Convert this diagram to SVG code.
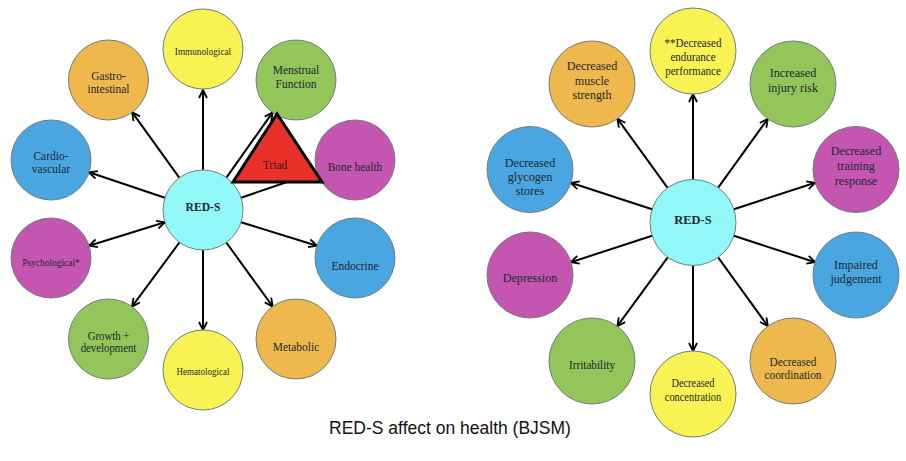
<svg xmlns="http://www.w3.org/2000/svg" width="906" height="461" viewBox="0 0 906 461">
<defs>
<style>
.c{stroke:#6f7d7d;stroke-width:1}
.yel{fill:#f8f352}.ora{fill:#efb84c}.grn{fill:#94c55a}.blu{fill:#4aa6e0}.mag{fill:#c455b0}.cya{fill:#92f7f7}
text{font-family:"Liberation Serif","Times New Roman",serif;fill:#1c2833;text-anchor:middle}
.f13{font-size:13.5px}.f125{font-size:12.5px}.f12{font-size:12px}.f11{font-size:11.5px}.f10{font-size:10.5px}
.b{font-weight:bold}
.cap{font-family:"Liberation Sans",Arial,sans-serif;font-size:17.5px;fill:#111}
.ln{stroke:#000;stroke-width:2;fill:none;marker-end:url(#arr)}
.ln2{stroke:#000;stroke-width:2;fill:none;marker-end:url(#arr);marker-start:url(#arr)}
.pl{stroke:#000;stroke-width:2;fill:none}
</style>
<marker id="arr" viewBox="0 0 10 10" refX="9" refY="5" markerWidth="10" markerHeight="10" markerUnits="userSpaceOnUse" orient="auto-start-reverse">
<path d="M1,1 L9,5 L1,9" fill="none" stroke="#000" stroke-width="1.8"/>
</marker>
</defs>
<rect width="906" height="461" fill="#fff"/>

<g id="connectors">
<line class="ln" x1="203" y1="170" x2="203" y2="90"/>
<line class="ln" x1="179.4" y1="177.8" x2="132.1" y2="112.2"/>
<line class="ln" x1="226.4" y1="177.6" x2="272.6" y2="112.4"/>
<line class="ln" x1="164.9" y1="197.7" x2="89.1" y2="172.3"/>
<line class="pl" x1="241.1" y1="197.7" x2="290" y2="181"/>
<line class="ln2" x1="164.9" y1="222.3" x2="89.1" y2="245.7"/>
<line class="ln" x1="241.1" y1="222.3" x2="316.9" y2="245.7"/>
<line class="ln" x1="179.5" y1="242.4" x2="132" y2="306.6"/>
<line class="ln" x1="203" y1="250" x2="203" y2="330"/>
<line class="ln" x1="226.3" y1="242.5" x2="272.7" y2="306.5"/>

<line class="ln" x1="693" y1="179.5" x2="693" y2="94"/>
<line class="ln" x1="667.6" y1="187.8" x2="617.4" y2="118.7"/>
<line class="ln" x1="718.2" y1="187.7" x2="767.8" y2="118.8"/>
<line class="ln" x1="652.1" y1="209.2" x2="570.9" y2="182.8"/>
<line class="ln" x1="733.9" y1="209.2" x2="815.1" y2="182.8"/>
<line class="ln" x1="652.1" y1="235.8" x2="570.9" y2="262.2"/>
<line class="ln" x1="733.9" y1="235.8" x2="815.1" y2="262.2"/>
<line class="ln" x1="667.7" y1="257.3" x2="617.3" y2="326.2"/>
<line class="ln" x1="693" y1="265.5" x2="693" y2="351"/>
<line class="ln" x1="718.1" y1="257.4" x2="767.9" y2="326.1"/>
</g>

<!-- Left diagram -->
<g id="n-immunological"><circle class="c yel" cx="203" cy="49" r="40"/>
<g transform="translate(203 49) scale(0.88 1)"><text class="f10" x="0" y="6">Immunological</text></g></g>
<g id="n-gastro"><circle class="c ora" cx="108.5" cy="80" r="40"/>
<g transform="translate(108.5 80) scale(0.92 1)"><text class="f125"><tspan x="0" y="0">Gastro-</tspan><tspan x="0" y="13.5">intestinal</tspan></text></g></g>
<g id="n-menstrual"><circle class="c grn" cx="296" cy="80" r="40"/>
<g transform="translate(296 80) scale(0.92 1)"><text class="f125"><tspan x="0" y="-6">Menstrual</tspan><tspan x="0" y="7.5">Function</tspan></text></g></g>
<g id="n-cardio"><circle class="c blu" cx="51" cy="160" r="40"/>
<g transform="translate(51 160) scale(0.92 1)"><text class="f125"><tspan x="0" y="0">Cardio-</tspan><tspan x="0" y="13.5">vascular</tspan></text></g></g>
<g id="n-bone"><circle class="c mag" cx="355" cy="160" r="40"/>
<g transform="translate(355 160) scale(0.84 1)"><text class="f13" x="0" y="10.5">Bone health</text></g></g>
<g id="n-psych"><circle class="c mag" cx="51" cy="258" r="40"/>
<g transform="translate(51 258) scale(0.9 1)"><text class="f10" x="0" y="7.5">Psychological*</text></g></g>
<g id="n-endocrine"><circle class="c blu" cx="355" cy="258" r="40"/>
<g transform="translate(355 258) scale(0.85 1)"><text class="f13" x="0" y="12.5">Endocrine</text></g></g>
<g id="n-growth"><circle class="c grn" cx="108.5" cy="339" r="40"/>
<g transform="translate(108.5 339) scale(0.9 1)"><text class="f12"><tspan x="0" y="0.5">Growth +</tspan><tspan x="0" y="13">development</tspan></text></g></g>
<g id="n-hemat"><circle class="c yel" cx="203" cy="370" r="40"/>
<g transform="translate(203 370) scale(0.86 1)"><text class="f10" x="0" y="4.5">Hematological</text></g></g>
<g id="n-metabolic"><circle class="c ora" cx="296" cy="339" r="40"/>
<g transform="translate(296 339) scale(0.85 1)"><text class="f13" x="0" y="11.5">Metabolic</text></g></g>
<g id="n-reds-left"><circle class="c cya" cx="203" cy="210" r="40"/>
<g transform="translate(203 210) scale(0.86 1)"><text class="f13 b" x="0" y="0.5">RED-S</text></g></g>
<g id="n-triad"><polygon points="277,114 233,182 322,182" fill="#e8312a" stroke="#000" stroke-width="3"/>
<g transform="translate(275 168.5) scale(0.86 1)"><text class="f13" x="0" y="0" style="fill:#4a1414">Triad</text></g></g>

<!-- Right diagram -->
<g id="n-endurance"><circle class="c yel" cx="693" cy="51" r="43"/>
<g transform="translate(693 51) scale(0.88 1)"><text class="f125"><tspan x="0" y="-4">**Decreased</tspan><tspan x="0" y="10">endurance</tspan><tspan x="0" y="24">performance</tspan></text></g></g>
<g id="n-muscle"><circle class="c ora" cx="592" cy="84" r="43"/>
<g transform="translate(592 84) scale(0.9 1)"><text class="f13"><tspan x="0" y="-14.5">Decreased</tspan><tspan x="0" y="0.5">muscle</tspan><tspan x="0" y="15.5">strength</tspan></text></g></g>
<g id="n-injury"><circle class="c grn" cx="793" cy="84" r="43"/>
<g transform="translate(793 84) scale(0.9 1)"><text class="f13"><tspan x="0" y="-7.5">Increased</tspan><tspan x="0" y="8">injury risk</tspan></text></g></g>
<g id="n-glycogen"><circle class="c blu" cx="530" cy="169.5" r="43"/>
<g transform="translate(530 169.5) scale(0.9 1)"><text class="f13"><tspan x="0" y="-3">Decreased</tspan><tspan x="0" y="11.5">glycogen</tspan><tspan x="0" y="26">stores</tspan></text></g></g>
<g id="n-training"><circle class="c mag" cx="856" cy="169.5" r="43"/>
<g transform="translate(856 169.5) scale(0.9 1)"><text class="f13"><tspan x="0" y="-15">Decreased</tspan><tspan x="0" y="0.5">training</tspan><tspan x="0" y="16">response</tspan></text></g></g>
<g id="n-reds-right"><circle class="c cya" cx="693" cy="222.5" r="43"/>
<g transform="translate(693 222.5) scale(0.92 1)"><text class="f13 b" x="0" y="1">RED-S</text></g></g>
<g id="n-depression"><circle class="c mag" cx="530" cy="275" r="43"/>
<g transform="translate(530 275) scale(0.9 1)"><text class="f13" x="0" y="6.5">Depression</text></g></g>
<g id="n-impaired"><circle class="c blu" cx="856" cy="275" r="43"/>
<g transform="translate(856 275) scale(0.9 1)"><text class="f13"><tspan x="0" y="-6.5">Impaired</tspan><tspan x="0" y="8">judgement</tspan></text></g></g>
<g id="n-irritability"><circle class="c grn" cx="592" cy="361" r="43"/>
<g transform="translate(592 361) scale(0.9 1)"><text class="f125" x="0" y="7.5">Irritability</text></g></g>
<g id="n-concentration"><circle class="c yel" cx="693" cy="394" r="43"/>
<g transform="translate(693 394) scale(0.9 1)"><text class="f11"><tspan x="0" y="-7">Decreased</tspan><tspan x="0" y="7">concentration</tspan></text></g></g>
<g id="n-coordination"><circle class="c ora" cx="793" cy="361" r="43"/>
<g transform="translate(793 361) scale(0.9 1)"><text class="f125"><tspan x="0" y="4.5">Decreased</tspan><tspan x="0" y="18">coordination</tspan></text></g></g>

<text class="cap" x="450" y="434">RED-S affect on health (BJSM)</text>
</svg>
